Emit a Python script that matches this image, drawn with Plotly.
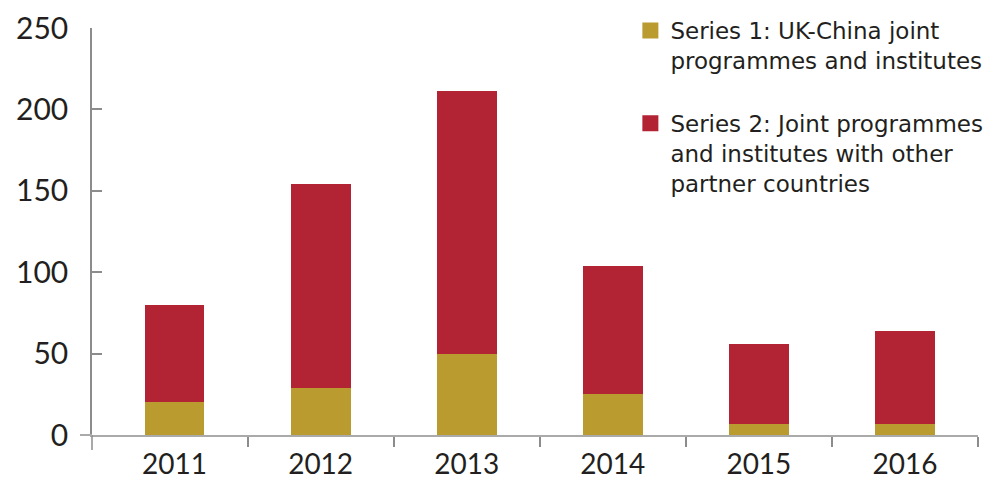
import plotly.graph_objects as go

years = [2011, 2012, 2013, 2014, 2015, 2016]
uk_china = [20, 29, 50, 25, 7, 7]
other_partners = [60, 125, 161, 79, 49, 57]

series_names = ["Series 1: UK-China joint<br>programmes and institutes",
                "Series 2: Joint programmes<br>and institutes with other<br>partner countries"]
y_ticks = [0, 50, 100, 150, 200, 250]

GOLD = "rgb(186, 155, 48)"
RED = "rgb(178, 35, 51)"
TEXT = "rgb(35, 31, 32)"
AXIS_GREY = "rgb(140,140,140)"

fig = go.Figure()

# stacked bars (legend handled by dummy square markers below)
fig.add_trace(go.Bar(x=years, y=uk_china, marker=dict(color=GOLD, line=dict(width=0)),
                     showlegend=False, hoverinfo="x+y"))
fig.add_trace(go.Bar(x=years, y=other_partners, marker=dict(color=RED, line=dict(width=0)),
                     showlegend=False, hoverinfo="x+y"))

# legend entries with bigger square swatches
for name, col, grp in zip(series_names, [GOLD, RED], ["s1", "s2"]):
    fig.add_trace(go.Scatter(x=[None], y=[None], mode="markers", name=name,
                             legendgroup=grp,
                             marker=dict(symbol="square", size=16, color=col)))

# page body adds an 8px offset, margins compensate for it
fig.update_layout(
    width=999, height=480,
    margin=dict(l=84, r=29, t=20, b=53, autoexpand=False),
    barmode="stack",
    bargap=0.59,
    paper_bgcolor="white",
    plot_bgcolor="white",
    font=dict(family="Lato", color=TEXT),
    legend=dict(xref="container", yref="container", x=0.623, y=0.998,
                xanchor="left", yanchor="top",
                font=dict(size=23, color=TEXT, family="DejaVu Sans"),
                valign="top", traceorder="grouped", tracegroupgap=30,
                itemwidth=30, bgcolor="rgba(0,0,0,0)"),
    xaxis=dict(range=[2010.435, 2016.5], tickmode="array", tickvals=years,
               ticktext=[str(y) for y in years],
               ticks="", showgrid=False, zeroline=False, automargin=False,
               showline=True, linecolor="rgb(170,170,170)", linewidth=2,
               ticklabelstandoff=3,
               tickfont=dict(size=28, color=TEXT),
               minor=dict(tickmode="array", tickvals=[2011.5, 2012.5, 2013.5, 2014.5, 2015.5, 2016.5],
                          ticks="outside", ticklen=10, tickwidth=1.5, tickcolor=AXIS_GREY)),
    yaxis=dict(range=[0, 250], tickmode="array", tickvals=y_ticks,
               ticks="inside", ticklen=10, tickwidth=1.5, tickcolor=AXIS_GREY,
               showgrid=False, zeroline=False, automargin=False,
               showline=True, linecolor=AXIS_GREY, linewidth=1.5,
               ticklabelstandoff=16,
               tickfont=dict(size=30, color=TEXT)),
)

# small axis overhangs at the origin, as in the original
fig.add_shape(type="line", xref="paper", yref="paper", x0=0, x1=0,
              ysizemode="pixel", yanchor=0, y0=-15, y1=0,
              line=dict(color=AXIS_GREY, width=1.5))
fig.add_shape(type="line", xref="paper", yref="paper", y0=0, y1=0,
              xsizemode="pixel", xanchor=0, x0=-12, x1=0,
              line=dict(color="rgb(170,170,170)", width=2))

fig.write_html("out.html")
